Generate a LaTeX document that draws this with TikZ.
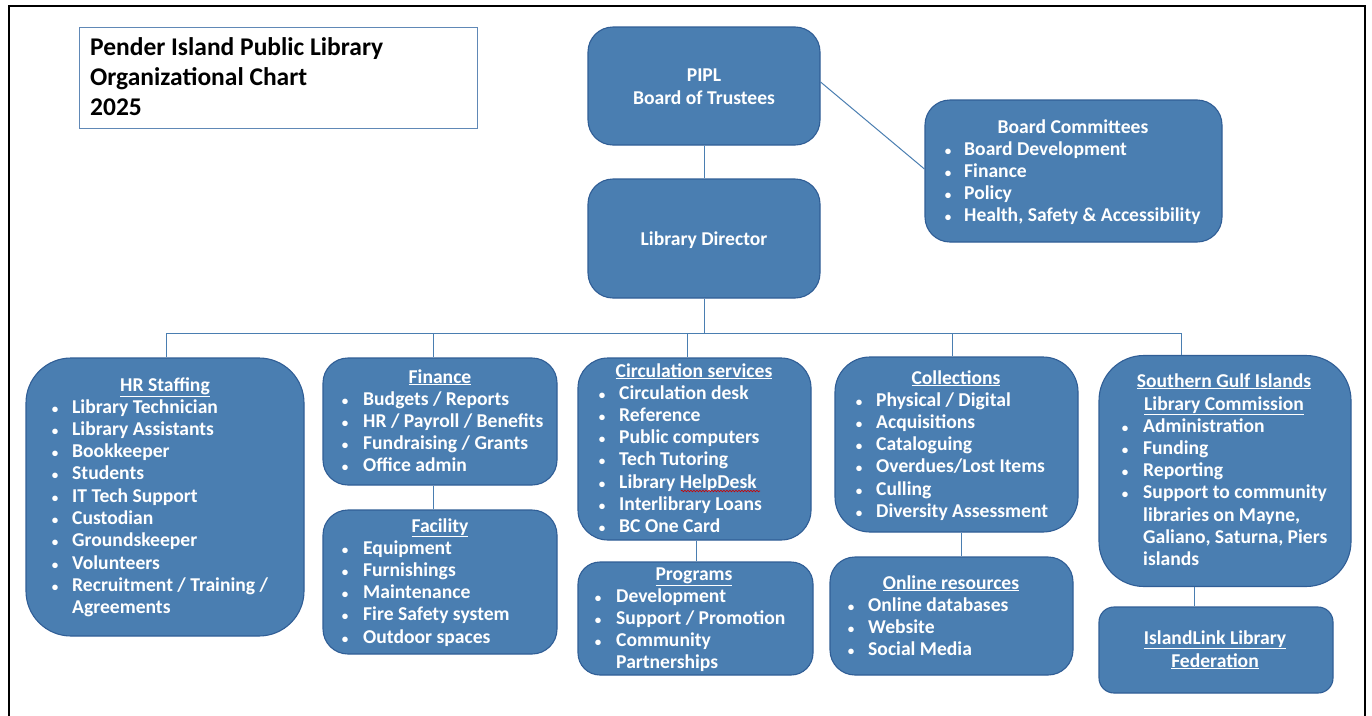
\documentclass[tikz,border=0pt]{standalone}
\usepackage{fontspec}
\setmainfont{Carlito}
\usetikzlibrary{decorations.pathmorphing}
\definecolor{boxfill}{RGB}{74,126,177}
\definecolor{boxline}{RGB}{48,94,150}
\definecolor{connc}{RGB}{74,126,177}
\definecolor{ttlline}{RGB}{96,136,182}
\newcommand\blist[5]{%
  \foreach \k/\t [count=\i] in {#5} {
    \pgfmathsetmacro\yy{#4+(\i-1)*22.3}
    \if b\k \node[bul,anchor=base] (#1b\i) at (#2,\yy) {\textbullet};\fi
    \node[txt,anchor=base west] (#1t\i) at (#3,\yy) {\t};
  }}
\begin{document}
\begin{tikzpicture}[x=1pt,y=-1pt,
  box/.style={draw=boxline, line width=1.1pt, fill=boxfill, rounded corners=#1, inner sep=0pt},
  box/.default=25pt,
  conn/.style={draw=connc, line width=1pt},
  txt/.style={font=\bfseries\fontsize{19.6}{22}\selectfont, text=white, inner sep=0pt},
  bul/.style={font=\bfseries\fontsize{13}{14}\selectfont, text=white, inner sep=0pt},
  ttl/.style={font=\bfseries\fontsize{25.5}{28}\selectfont, text=black, inner sep=0pt}]
\useasboundingbox (0,0) rectangle (1372,715);
\clip (0,0) rectangle (1372,715);
\fill[white] (0,0) rectangle (1372,715);
\draw[black, line width=2pt] (9,6) rectangle (1365,760);

% title
\node[draw=ttlline, line width=0.9pt, minimum width=398pt, minimum height=101pt, inner sep=0pt] (title) at (278,77.5) {};
\node[ttl,anchor=base west] (ti1) at (90,55) {Pender Island Public Library};
\node[ttl,anchor=base west] (ti2) at (90,85) {Organizational Chart};
\node[ttl,anchor=base west] (ti3) at (90,115) {2025};

% boxes
\node[box=25pt, minimum width=232pt, minimum height=118pt] (pipl) at (704,86) {};
\node[box=25pt, minimum width=232pt, minimum height=119pt] (dir) at (704,238.5) {};
\node[box=25pt, minimum width=297pt, minimum height=142pt] (bc) at (1073.5,171) {};
\node[box=45pt, minimum width=278pt, minimum height=278pt] (hr) at (165,497) {};
\node[box=25pt, minimum width=234pt, minimum height=127pt] (fin) at (440,421.5) {};
\node[box=25pt, minimum width=234pt, minimum height=144pt] (fac) at (440,582) {};
\node[box=30pt, minimum width=233pt, minimum height=182pt] (circ) at (694.5,449) {};
\node[box=22pt, minimum width=235pt, minimum height=113pt] (prog) at (695.5,618.5) {};
\node[box=35pt, minimum width=243pt, minimum height=175pt] (coll) at (956.5,444.5) {};
\node[box=25pt, minimum width=243pt, minimum height=118pt] (onl) at (951.5,616) {};
\node[box=45pt, minimum width=252pt, minimum height=231pt] (sgi) at (1225,471) {};
\node[box=15pt, minimum width=234pt, minimum height=86pt] (isl) at (1216,650) {};

% connectors
\coordinate (d1) at (166,333);
\coordinate (d2) at (433,333);
\coordinate (d3) at (687,333);
\coordinate (d4) at (952,333);
\coordinate (d5) at (1181,333);
\coordinate (l3) at (696,333);
\coordinate (l4) at (961,333);
\coordinate (l5) at (1194,333);
\draw[conn] (pipl.south) -- (dir.north);
\draw[conn] ([yshift=4pt]pipl.east) -- ([yshift=2pt]bc.west);
\draw[conn] (dir.south) -- (dir.south |- d1);
\draw[conn] (d1) -- (d5);
\draw[conn] (d1) -- (d1 |- hr.north);
\draw[conn] (d2) -- (d2 |- fin.north);
\draw[conn] (d3) -- (d3 |- circ.north);
\draw[conn] (d4) -- (d4 |- coll.north);
\draw[conn] (d5) -- (d5 |- sgi.north);
\draw[conn] (d2 |- fin.south) -- (d2 |- fac.north);
\draw[conn] (l3 |- circ.south) -- (l3 |- prog.north);
\draw[conn] (l4 |- coll.south) -- (l4 |- onl.north);
\draw[conn] (l5 |- sgi.south) -- (l5 |- isl.north);

% texts
\node[txt,anchor=base] (pipl1) at (704,81) {PIPL};
\node[txt,anchor=base] (pipl2) at (704,104) {Board of Trustees};
\node[txt,anchor=base] (dirt) at (704,245) {Library Director};

\node[txt,anchor=base] (bch) at (1073,133) {Board Committees};
\blist{bc}{948}{964}{155}{b/{Board Development}, b/{Finance}, b/{Policy}, b/{Health, Safety \& Accessibility}}

\node[txt,anchor=base] (hrh) at (165,391) {\underline{HR Staffing}};
\blist{hr}{55}{72}{413}{b/{Library Technician}, b/{Library Assistants}, b/{Bookkeeper}, b/{Students}, b/{IT Tech Support}, b/{Custodian}, b/{Groundskeeper}, b/{Volunteers}, b/{Recruitment / Training /}, n/{Agreements}}

\node[txt,anchor=base] (finh) at (440,383) {\underline{Finance}};
\blist{fin}{345}{363}{405}{b/{Budgets / Reports}, b/{HR / Payroll / Benefits}, b/{Fundraising / Grants}, b/{Office admin}}

\node[txt,anchor=base] (fach) at (440,532) {\underline{Facility}};
\blist{fac}{345}{363}{554}{b/{Equipment}, b/{Furnishings}, b/{Maintenance}, b/{Fire Safety system}, b/{Outdoor spaces}}

\node[txt,anchor=base] (circh) at (694,377) {\underline{Circulation services}};
\blist{circ}{602}{619}{399}{b/{Circulation desk}, b/{Reference}, b/{Public computers}, b/{Tech Tutoring}, b/{Library HelpDesk}, b/{Interlibrary Loans}, b/{BC One Card}}
\draw[red!80!black, line width=0.6pt, decorate, decoration={snake, amplitude=0.8pt, segment length=3pt}] (681,491) -- (760,491);

\node[txt,anchor=base] (progh) at (694,580) {\underline{Programs}};
\blist{prog}{598}{616}{602}{b/{Development}, b/{Support / Promotion}, b/{Community}, n/{Partnerships}}

\node[txt,anchor=base] (collh) at (956,384) {\underline{Collections}};
\blist{coll}{859}{876}{406}{b/{Physical / Digital}, b/{Acquisitions}, b/{Cataloguing}, b/{Overdues/Lost Items}, b/{Culling}, b/{Diversity Assessment}}

\node[txt,anchor=base] (onlh) at (951,589) {\underline{Online resources}};
\blist{onl}{851}{868}{611}{b/{Online databases}, b/{Website}, b/{Social Media}}

\node[txt,anchor=base] (sgih1) at (1224,387) {\underline{Southern Gulf Islands}};
\node[txt,anchor=base] (sgih2) at (1224,410) {\underline{Library Commission}};
\blist{sgi}{1125}{1143}{432}{b/{Administration}, b/{Funding}, b/{Reporting}, b/{Support to community}, n/{libraries on Mayne,}, n/{Galiano, Saturna, Piers}, n/{islands}}

\node[txt,anchor=base] (isl1) at (1215,644) {\underline{IslandLink Library}};
\node[txt,anchor=base] (isl2) at (1215,667) {\underline{Federation}};
\end{tikzpicture}
\end{document}
